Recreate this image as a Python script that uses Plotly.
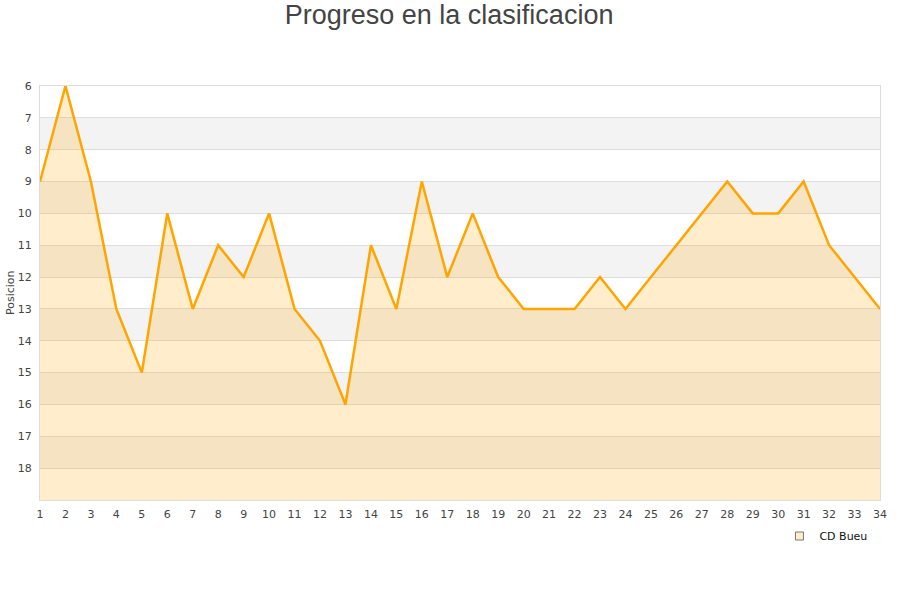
import plotly.graph_objects as go

jornadas = list(range(1, 35))
posiciones = [9, 6, 9, 13, 15, 10, 13, 11, 12, 10, 13, 14, 16, 11, 13, 9, 12, 10, 12, 13,
              13, 13, 12, 13, 12, 11, 10, 9, 10, 10, 9, 11, 12, 13]
equipo = "CD Bueu"
y_ticks = list(range(6, 19))
y_min, y_max = 6, 19

fig = go.Figure()
fig.add_trace(go.Scatter(x=jornadas, y=[y_max] * len(jornadas), mode="lines",
                         line=dict(width=0, color="rgba(0,0,0,0)"), showlegend=False,
                         hoverinfo="skip"))
fig.add_trace(go.Scatter(x=jornadas, y=posiciones, mode="lines", name=equipo,
                         line=dict(color="#FFA500", width=2.5), showlegend=False,
                         fill="tonexty", fillcolor="rgba(255,165,0,0.2)"))
# legend-only entry (square marker)
fig.add_trace(go.Scatter(x=[None], y=[None], mode="markers", name=equipo,
                         marker=dict(symbol="square", size=8, color="#FFEDCC",
                                     line=dict(color="#777", width=1))))

shapes = []
for k in range(7, 19, 2):
    shapes.append(dict(type="rect", xref="paper", yref="y", x0=0, x1=1, y0=k, y1=k + 1,
                       fillcolor="#f3f3f3", line=dict(width=0), layer="below"))
fig.update_layout(
    shapes=shapes,
    width=900, height=600,
    paper_bgcolor="white", plot_bgcolor="white",
    margin=dict(l=40, r=20, t=86, b=100, autoexpand=False),
    title=dict(text="Progreso en la clasificacion", x=0.499, xanchor="center",
               y=1 - 15 / 600, yanchor="middle", yref="container",
               font=dict(family="Liberation Sans", size=27, color="#444")),
    font=dict(family="DejaVu Sans", size=11, color="#444"),
    xaxis=dict(range=[1, 34], tickmode="array", tickvals=jornadas, showgrid=False,
               zeroline=False, showline=True, linecolor="#ddd", mirror=True, ticks="",
               ticklabelstandoff=4, automargin=False),
    yaxis=dict(range=[y_max, y_min], tickmode="array", tickvals=y_ticks,
               showgrid=True, gridcolor="#ddd", zeroline=False, showline=True,
               linecolor="#ddd", mirror=True, ticks="", ticklabelstandoff=5,
               automargin=False),
    annotations=[dict(text="Posicion", xref="paper", yref="paper", x=-30 / 840, y=0.5,
                      xanchor="center", yanchor="middle", textangle=-90, showarrow=False,
                      font=dict(size=11, color="#444"))],
    legend=dict(x=0.991, xanchor="right", y=-36 / 414, yanchor="middle", orientation="h",
                itemwidth=30, font=dict(size=11, color="#111"), bgcolor="rgba(0,0,0,0)"),
    showlegend=True,
)
fig.write_html("out.html", config={"displayModeBar": False},
               post_script="document.body.style.margin='0';")
